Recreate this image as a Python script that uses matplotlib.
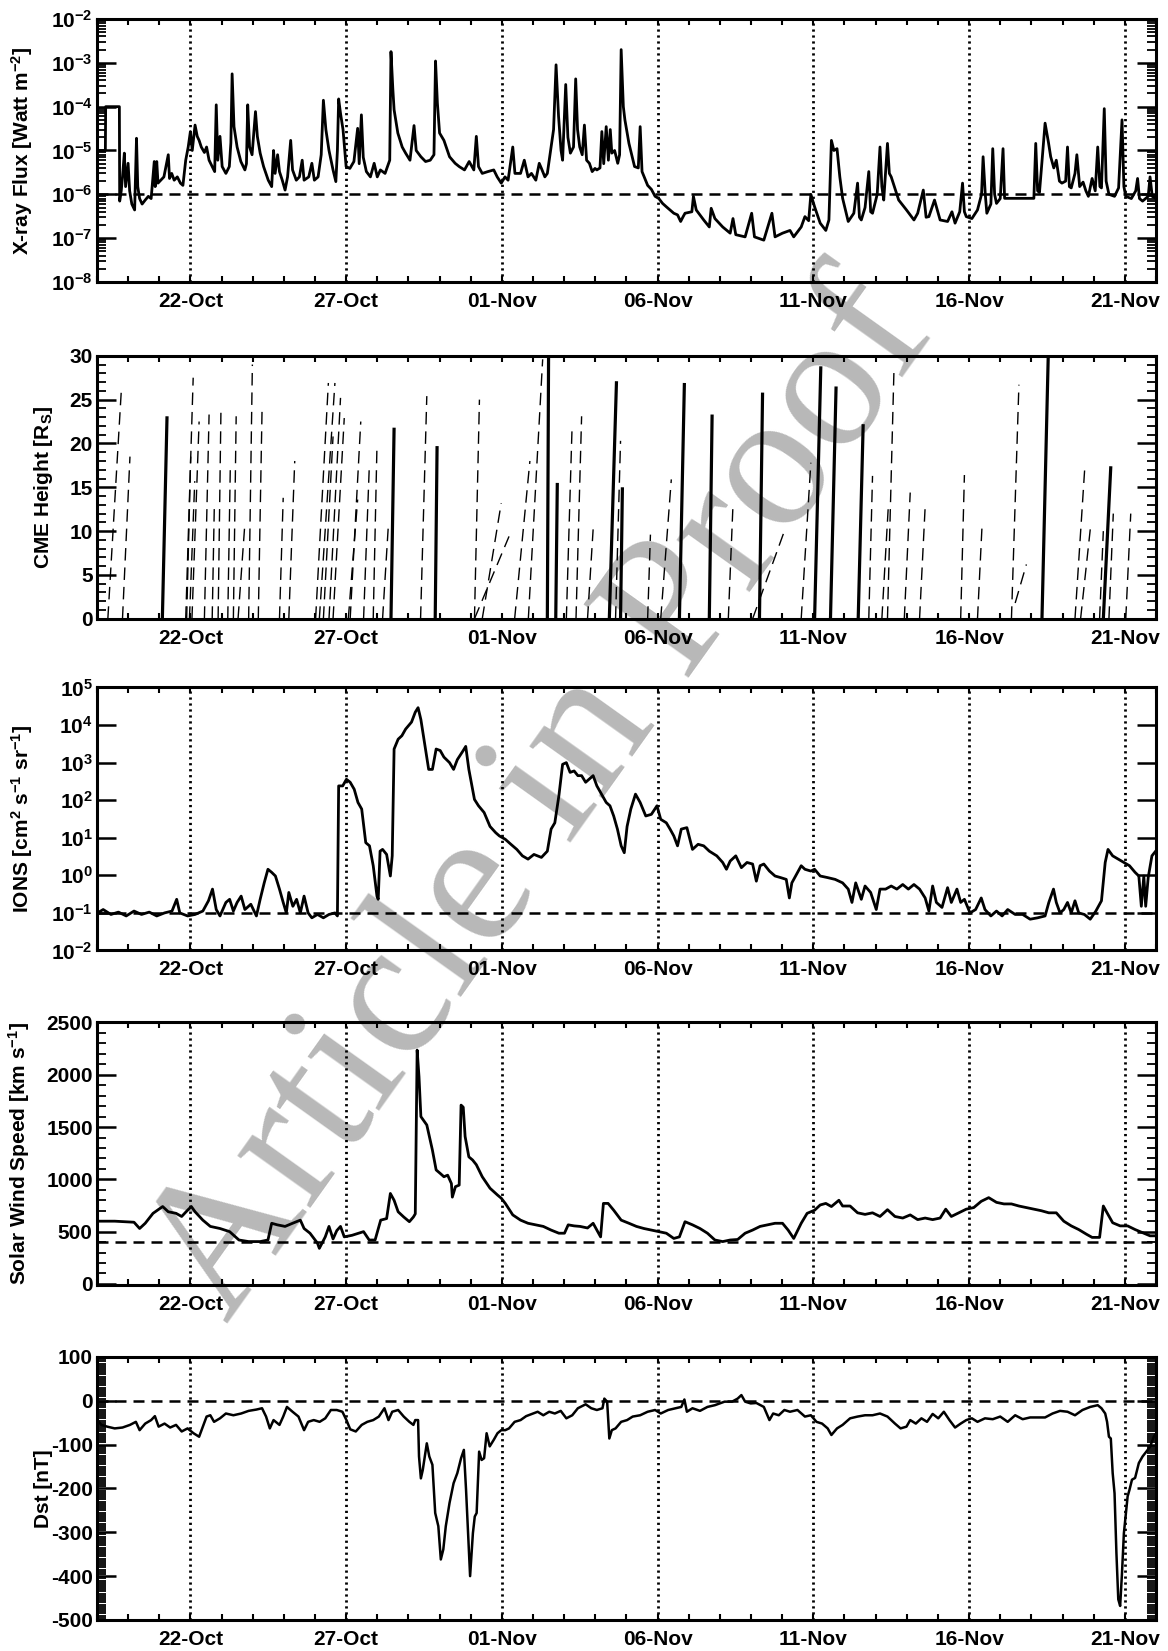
import numpy as np
import matplotlib
matplotlib.use('Agg')
import matplotlib.pyplot as plt
import matplotlib.dates as mdates
from matplotlib.ticker import (FixedLocator, FixedFormatter, MultipleLocator,
                               LogLocator, NullFormatter, NullLocator)

plt.rcParams['font.family'] = ['Liberation Sans', 'DejaVu Sans']
plt.rcParams['font.weight'] = 'bold'
plt.rcParams['axes.labelweight'] = 'bold'
plt.rcParams['mathtext.fontset'] = 'custom'
plt.rcParams['mathtext.rm'] = 'Liberation Sans:bold'
plt.rcParams['mathtext.bf'] = 'Liberation Sans:bold'
plt.rcParams['mathtext.it'] = 'Liberation Sans:bold'
plt.rcParams['mathtext.default'] = 'rm'
plt.rcParams['axes.unicode_minus'] = False

# time is in days since 2003-10-19 00:00
tick_days = [3, 8, 13, 18, 23, 28, 33]

# GOES x-ray flux (day, W m^-2)
xray = [
    (0.00, 1.6e-6), (0.01, 1.0e-5), (0.27, 1.0e-5), (0.28, 1.0e-4), (0.72, 1.0e-4), (0.73, 7.0e-7),
    (0.78, 1.2e-6), (0.82, 2.5e-6), (0.88, 8.7e-6), (0.92, 1.5e-6), (1.00, 5.1e-6), (1.05, 1.2e-6),
    (1.12, 6.0e-7), (1.21, 4.4e-7), (1.27, 1.9e-5), (1.31, 1.5e-6), (1.37, 8.0e-7), (1.45, 6.0e-7),
    (1.55, 7.4e-7), (1.65, 9.0e-7), (1.74, 8.0e-7), (1.84, 5.6e-6), (1.87, 1.5e-6), (1.92, 5.6e-6),
    (1.96, 1.8e-6), (2.05, 2.1e-6), (2.15, 2.5e-6), (2.29, 8.0e-6), (2.33, 2.3e-6), (2.40, 3.0e-6),
    (2.48, 2.1e-6), (2.58, 2.5e-6), (2.68, 1.8e-6), (2.76, 1.6e-6), (2.85, 6.0e-6), (2.93, 1.2e-5),
    (3.00, 2.7e-5), (3.06, 1.0e-5), (3.15, 3.8e-5), (3.22, 2.1e-5), (3.28, 1.7e-5), (3.35, 1.2e-5),
    (3.45, 9.0e-6), (3.52, 1.2e-5), (3.60, 6.0e-6), (3.70, 4.3e-6), (3.78, 3.3e-6), (3.83, 1.1e-4),
    (3.88, 6.0e-6), (3.95, 2.1e-5), (4.02, 4.3e-6), (4.14, 3.0e-6), (4.25, 4.3e-6), (4.30, 1.5e-5),
    (4.34, 5.6e-4), (4.40, 3.5e-5), (4.50, 1.2e-5), (4.62, 5.6e-6), (4.75, 3.6e-6), (4.80, 5.0e-6),
    (4.84, 1.1e-4), (4.90, 1.2e-5), (4.98, 8.0e-6), (5.09, 7.7e-5), (5.15, 2.1e-5), (5.24, 8.7e-6),
    (5.35, 4.3e-6), (5.50, 2.1e-6), (5.61, 1.5e-6), (5.67, 1.0e-5), (5.72, 3.0e-6), (5.80, 8.0e-6),
    (5.86, 3.3e-6), (5.95, 2.1e-6), (6.04, 1.25e-6), (6.12, 2.5e-6), (6.22, 1.7e-5), (6.28, 3.6e-6),
    (6.40, 2.1e-6), (6.50, 2.5e-6), (6.59, 6.0e-6), (6.65, 2.1e-6), (6.80, 2.5e-6), (6.90, 5.1e-6),
    (6.98, 2.1e-6), (7.10, 2.5e-6), (7.20, 8.0e-6), (7.27, 1.4e-4), (7.35, 3.0e-5), (7.45, 1.0e-5),
    (7.58, 3.6e-6), (7.67, 1.95e-6), (7.72, 1.0e-5), (7.76, 1.5e-4), (7.82, 7.0e-5), (7.90, 3.0e-5),
    (8.00, 4.3e-6), (8.12, 3.9e-6), (8.25, 5.6e-6), (8.37, 3.2e-5), (8.42, 5.0e-6), (8.49, 6.5e-5),
    (8.55, 7.0e-6), (8.65, 3.3e-6), (8.78, 2.5e-6), (8.90, 5.1e-6), (9.00, 2.5e-6), (9.10, 3.6e-6),
    (9.25, 3.0e-6), (9.40, 6.0e-6), (9.44, 1.8e-3), (9.50, 2.5e-4), (9.54, 8.5e-5), (9.66, 2.5e-5),
    (9.80, 1.2e-5), (9.91, 8.7e-6), (10.05, 6.0e-6), (10.18, 3.7e-5), (10.25, 1.0e-5), (10.40, 7.2e-6),
    (10.55, 5.6e-6), (10.70, 6.0e-6), (10.82, 8.0e-6), (10.87, 1.1e-3), (10.93, 1.2e-4), (11.00, 2.5e-5),
    (11.14, 1.7e-5), (11.32, 7.2e-6), (11.50, 5.1e-6), (11.63, 4.3e-6), (11.80, 3.6e-6), (11.95, 5.6e-6),
    (12.10, 3.6e-6), (12.18, 2.1e-5), (12.25, 4.3e-6), (12.37, 3.0e-6), (12.55, 3.3e-6), (12.74, 3.6e-6),
    (12.85, 2.5e-6), (12.98, 1.8e-6), (13.10, 2.5e-6), (13.20, 2.1e-6), (13.35, 1.2e-5), (13.42, 3.0e-6),
    (13.60, 3.0e-6), (13.72, 6.0e-6), (13.84, 2.5e-6), (13.95, 3.0e-6), (14.09, 2.1e-6), (14.20, 5.1e-6),
    (14.27, 3.9e-6), (14.38, 2.5e-6), (14.46, 3.0e-6), (14.58, 1.2e-5), (14.66, 3.0e-5), (14.74, 9.0e-4),
    (14.82, 6.0e-5), (14.90, 1.0e-5), (14.95, 6.0e-6), (15.05, 3.2e-4), (15.12, 2.0e-5), (15.20, 8.7e-6),
    (15.30, 1.2e-5), (15.37, 4.3e-4), (15.43, 3.0e-5), (15.50, 1.2e-5), (15.58, 8.0e-6), (15.65, 3.8e-5),
    (15.72, 6.0e-6), (15.81, 5.1e-6), (15.90, 3.3e-6), (15.99, 3.9e-6), (16.05, 3.6e-6), (16.15, 4.0e-6),
    (16.21, 2.7e-5), (16.27, 5.0e-6), (16.35, 3.5e-5), (16.42, 6.0e-6), (16.48, 3.0e-5), (16.53, 8.7e-6),
    (16.62, 1.0e-5), (16.72, 5.1e-6), (16.78, 8.0e-6), (16.83, 2.0e-3), (16.90, 1.0e-4), (16.95, 5.0e-5),
    (17.08, 1.45e-5), (17.26, 4.3e-6), (17.38, 4.0e-6), (17.44, 3.5e-5), (17.50, 3.3e-6), (17.68, 1.6e-6),
    (17.80, 1.3e-6), (17.92, 9.0e-7), (18.04, 8.0e-7), (18.16, 6.2e-7), (18.28, 5.2e-7), (18.40, 4.4e-7),
    (18.52, 3.7e-7), (18.64, 3.4e-7), (18.74, 2.4e-7), (18.82, 3.1e-7), (18.88, 3.7e-7), (19.10, 4.0e-7),
    (19.15, 9.0e-7), (19.24, 4.4e-7), (19.48, 2.6e-7), (19.66, 1.8e-7), (19.72, 4.8e-7), (19.84, 2.8e-7),
    (20.09, 1.8e-7), (20.33, 1.3e-7), (20.42, 2.8e-7), (20.51, 1.2e-7), (20.81, 1.07e-7), (21.02, 3.7e-7),
    (21.11, 1.07e-7), (21.41, 9.0e-8), (21.67, 3.7e-7), (21.77, 1.07e-7), (22.01, 1.3e-7), (22.25, 1.5e-7),
    (22.37, 1.07e-7), (22.61, 1.8e-7), (22.73, 3.1e-7), (22.85, 2.5e-7), (22.92, 1.0e-6), (23.04, 5.2e-7),
    (23.22, 2.2e-7), (23.40, 1.5e-7), (23.50, 2.6e-7), (23.58, 1.7e-5), (23.66, 1.0e-5), (23.76, 1.1e-5),
    (23.85, 2.5e-6), (23.94, 8.1e-7), (24.12, 2.4e-7), (24.30, 3.7e-7), (24.42, 1.8e-6), (24.48, 3.0e-7),
    (24.54, 2.6e-7), (24.66, 5.0e-7), (24.78, 3.3e-6), (24.84, 4.0e-7), (24.90, 3.7e-7), (25.05, 1.0e-6),
    (25.14, 1.2e-5), (25.20, 1.5e-6), (25.26, 7.4e-7), (25.38, 1.45e-5), (25.44, 3.0e-6), (25.50, 2.5e-6),
    (25.74, 7.4e-7), (25.99, 4.4e-7), (26.23, 2.6e-7), (26.35, 3.7e-7), (26.53, 1.25e-6), (26.62, 3.0e-7),
    (26.71, 3.1e-7), (26.89, 7.4e-7), (27.07, 2.6e-7), (27.31, 2.4e-7), (27.45, 4.0e-7), (27.55, 2.2e-7),
    (27.70, 4.0e-7), (27.79, 1.8e-6), (27.85, 4.0e-7), (27.91, 3.1e-7), (28.09, 2.8e-7), (28.27, 4.4e-7),
    (28.40, 1.0e-6), (28.45, 7.2e-6), (28.52, 1.0e-6), (28.57, 3.7e-7), (28.70, 6.0e-7), (28.76, 1.1e-5),
    (28.82, 1.0e-6), (28.88, 6.2e-7), (29.00, 8.0e-7), (29.09, 1.1e-5), (29.14, 8.1e-7), (30.08, 8.1e-7),
    (30.14, 1.45e-5), (30.20, 1.2e-6), (30.26, 1.1e-6), (30.36, 8.0e-6), (30.44, 4.2e-5), (30.55, 1.5e-5),
    (30.62, 7.2e-6), (30.72, 4.0e-6), (30.80, 6.0e-6), (30.90, 2.0e-6), (30.98, 1.8e-6), (31.10, 2.0e-6),
    (31.16, 1.2e-5), (31.22, 1.5e-6), (31.28, 1.4e-6), (31.40, 3.0e-6), (31.46, 8.0e-6), (31.55, 1.5e-6),
    (31.66, 1.9e-6), (31.75, 1.2e-6), (31.83, 9.0e-7), (31.95, 2.3e-6), (32.05, 1.2e-6), (32.13, 1.2e-5),
    (32.20, 1.5e-6), (32.25, 1.4e-6), (32.34, 9.0e-5), (32.40, 2.0e-6), (32.49, 1.0e-6), (32.67, 9.0e-7),
    (32.80, 1.4e-6), (32.91, 5.0e-5), (32.97, 1.5e-6), (33.03, 9.0e-7), (33.21, 8.0e-7), (33.35, 1.2e-6),
    (33.41, 2.3e-6), (33.47, 8.0e-7), (33.57, 7.0e-7), (33.75, 9.0e-7), (33.81, 2.5e-6), (33.88, 9.0e-7),
    (34.00, 8.0e-7),
]

# CME height-time tracks: (start day, end day, start height, end height, halo)
cme = [
    (0.35, 0.79, 0, 26.5, 0), (0.82, 1.06, 0, 18.5, 0), (2.10, 2.25, 0, 23.1, 1),
    (2.85, 3.09, 0, 27.5, 0), (2.88, 3.01, 0, 18.5, 0), (2.97, 3.14, 0, 15.7, 0),
    (3.05, 3.28, 0, 22.5, 0), (3.45, 3.60, 0, 23.3, 0), (3.70, 3.77, 0, 13.2, 0),
    (3.89, 3.98, 0, 23.5, 0), (4.20, 4.28, 0, 17.0, 0), (4.38, 4.47, 0, 23.1, 0),
    (4.53, 4.75, 0, 10.9, 0), (4.87, 4.99, 0, 29.0, 0), (5.18, 5.30, 0, 23.7, 0),
    (5.86, 5.98, 0, 13.8, 0), (6.16, 6.35, 0, 18.0, 0), (7.02, 7.43, 0, 26.9, 0),
    (7.14, 7.64, 0, 26.9, 0), (7.27, 7.58, 0, 20.8, 0), (7.45, 7.82, 0, 25.2, 0),
    (7.58, 7.94, 0, 22.9, 0), (8.07, 8.37, 0, 13.6, 0), (8.13, 8.47, 0, 22.5, 0),
    (8.56, 8.74, 0, 17.0, 0), (8.87, 8.99, 0, 19.7, 0), (9.17, 9.36, 0, 10.9, 0),
    (9.44, 9.54, 0, 21.8, 1), (10.39, 10.59, 0, 25.4, 0), (10.86, 10.92, 0, 19.7, 1),
    (12.12, 12.28, 0, 25.0, 0), (12.12, 13.23, 0, 9.4, 0), (12.37, 12.98, 0, 13.2, 0),
    (13.41, 13.90, 0, 18.0, 0), (13.85, 14.31, 0, 29.6, 0), (14.46, 14.50, 0, 30.5, 1),
    (14.73, 14.78, 0, 15.5, 1), (15.07, 15.25, 0, 21.4, 0), (15.38, 15.56, 0, 23.1, 0),
    (15.75, 15.93, 0, 10.2, 0), (16.45, 16.68, 0, 27.1, 1), (16.65, 16.81, 0, 20.3, 0),
    (16.81, 16.87, 0, 15.0, 1), (17.68, 17.77, 0, 9.6, 0), (18.10, 18.44, 0, 15.9, 0),
    (18.70, 18.86, 0, 26.9, 1), (19.66, 19.75, 0, 23.3, 1), (20.27, 20.42, 0, 13.0, 0),
    (21.05, 22.11, 0, 10.4, 0), (21.27, 21.37, 0, 25.8, 1), (22.61, 22.92, 0, 17.8, 0),
    (23.04, 23.24, 0, 28.8, 1), (23.55, 23.73, 0, 26.5, 1), (24.44, 24.60, 0, 22.2, 1),
    (24.78, 24.90, 0, 16.3, 0), (25.20, 25.41, 0, 13.0, 0), (25.38, 25.59, 0, 28.6, 0),
    (25.92, 26.11, 0, 14.4, 0), (26.41, 26.59, 0, 12.8, 0), (27.73, 27.85, 0, 16.4, 0),
    (28.27, 28.42, 0, 10.9, 0), (29.36, 29.60, 0, 26.7, 0), (29.48, 29.84, 1.8, 6.2, 0),
    (30.34, 30.54, 0, 29.8, 1), (31.40, 31.71, 0, 17.0, 0), (31.58, 31.89, 0, 10.2, 0),
    (32.19, 32.31, 0, 10.0, 0), (32.31, 32.55, 0, 17.4, 1), (32.49, 32.63, 0, 12.0, 0),
    (33.03, 33.19, 0, 12.0, 0),
]

# proton (ion) flux (day, cm^-2 s^-1 sr^-1)
ions = [
    (0.02, 0.10), (0.20, 0.123), (0.45, 0.091), (0.69, 0.105), (0.94, 0.083), (1.19, 0.112),
    (1.43, 0.091), (1.68, 0.105), (1.92, 0.083), (2.17, 0.10), (2.41, 0.112), (2.56, 0.23),
    (2.66, 0.10), (2.91, 0.083), (3.15, 0.091), (3.40, 0.112), (3.58, 0.21), (3.71, 0.43),
    (3.83, 0.123), (3.95, 0.083), (4.14, 0.19), (4.26, 0.23), (4.38, 0.112), (4.50, 0.19),
    (4.63, 0.28), (4.75, 0.123), (4.94, 0.17), (5.12, 0.083), (5.24, 0.23), (5.37, 0.63),
    (5.49, 1.45), (5.61, 1.2), (5.73, 0.96), (5.86, 0.43), (5.98, 0.19), (6.08, 0.10),
    (6.16, 0.35), (6.29, 0.15), (6.41, 0.23), (6.53, 0.10), (6.65, 0.28), (6.78, 0.10),
    (6.90, 0.074), (7.08, 0.091), (7.27, 0.074), (7.45, 0.091), (7.64, 0.10), (7.72, 0.083),
    (7.76, 240), (7.89, 240), (8.01, 360), (8.13, 300), (8.26, 195), (8.38, 87),
    (8.50, 58), (8.63, 7.4), (8.75, 6.1), (8.87, 1.8), (8.99, 0.28), (9.03, 0.23),
    (9.09, 4.4), (9.17, 4.9), (9.30, 3.6), (9.42, 0.96), (9.48, 3.3), (9.54, 2300),
    (9.67, 4200), (9.79, 5200), (9.91, 7800), (10.10, 1.2e4), (10.22, 2.2e4), (10.31, 2.9e4),
    (10.40, 1.4e4), (10.53, 2800), (10.65, 660), (10.77, 660), (10.89, 2300), (11.02, 2100),
    (11.14, 1400), (11.32, 1000), (11.45, 660), (11.57, 1200), (11.76, 2100), (11.84, 2700),
    (11.94, 660), (12.12, 105), (12.25, 71), (12.43, 47), (12.62, 20), (12.80, 13.7),
    (12.92, 11.2), (13.11, 9.1), (13.29, 6.7), (13.48, 4.9), (13.66, 3.3), (13.84, 2.7),
    (14.03, 3.6), (14.27, 3.0), (14.46, 4.4), (14.58, 17), (14.70, 25), (14.83, 130),
    (14.95, 900), (15.07, 1000), (15.19, 550), (15.32, 600), (15.44, 450), (15.56, 450),
    (15.69, 300), (15.93, 450), (16.05, 240), (16.23, 130), (16.35, 87), (16.47, 71),
    (16.59, 38), (16.71, 17), (16.83, 6.1), (16.93, 4.0), (17.02, 20), (17.14, 58),
    (17.29, 145), (17.44, 87), (17.62, 38), (17.80, 42), (17.98, 71), (18.10, 31),
    (18.28, 25), (18.40, 17), (18.52, 11.2), (18.64, 6.1), (18.76, 17), (18.94, 18.6),
    (19.12, 4.9), (19.30, 6.7), (19.48, 6.1), (19.66, 4.4), (19.90, 3.3), (20.09, 2.2),
    (20.21, 1.45), (20.33, 2.4), (20.51, 3.3), (20.69, 1.6), (20.87, 2.2), (21.05, 2.0),
    (21.17, 0.70), (21.29, 1.8), (21.41, 2.0), (21.59, 1.3), (21.77, 0.96), (21.95, 0.87),
    (22.13, 0.78), (22.23, 0.25), (22.31, 0.63), (22.43, 0.96), (22.61, 1.8), (22.73, 1.45),
    (22.92, 1.3), (23.04, 1.45), (23.22, 0.96), (23.46, 0.87), (23.70, 0.78), (23.94, 0.63),
    (24.12, 0.43), (24.24, 0.19), (24.36, 0.63), (24.54, 0.23), (24.66, 0.52), (24.84, 0.35),
    (25.02, 0.123), (25.14, 0.43), (25.32, 0.43), (25.50, 0.52), (25.68, 0.43), (25.87, 0.57),
    (26.05, 0.43), (26.23, 0.57), (26.41, 0.43), (26.59, 0.25), (26.71, 0.112), (26.83, 0.52),
    (26.95, 0.19), (27.13, 0.14), (27.31, 0.47), (27.43, 0.19), (27.61, 0.43), (27.73, 0.19),
    (27.85, 0.23), (28.03, 0.10), (28.21, 0.123), (28.39, 0.25), (28.51, 0.123), (28.70, 0.083),
    (28.88, 0.112), (29.06, 0.083), (29.24, 0.123), (29.48, 0.091), (29.72, 0.091), (29.96, 0.068),
    (30.20, 0.074), (30.44, 0.083), (30.56, 0.19), (30.71, 0.43), (30.80, 0.19), (30.92, 0.10),
    (31.04, 0.123), (31.16, 0.19), (31.28, 0.10), (31.40, 0.21), (31.52, 0.10), (31.70, 0.091),
    (31.89, 0.068), (32.07, 0.112), (32.25, 0.21), (32.37, 2.2), (32.46, 4.9), (32.61, 3.3),
    (32.79, 2.7), (32.97, 2.2), (33.15, 1.8), (33.33, 1.2), (33.45, 0.96), (33.53, 0.15),
    (33.61, 0.96), (33.67, 0.15), (33.75, 0.87), (33.87, 3.3), (33.99, 4.4),
]

# solar wind speed (day, km/s)
speed = [
    (0.02, 600), (0.57, 600), (1.19, 590), (1.37, 530), (1.55, 580), (1.80, 675),
    (2.11, 740), (2.29, 690), (2.54, 675), (2.72, 645), (2.91, 705), (3.03, 740),
    (3.15, 690), (3.40, 610), (3.64, 550), (3.95, 530), (4.26, 500), (4.56, 420),
    (4.87, 405), (5.24, 405), (5.49, 420), (5.61, 580), (5.79, 565), (6.04, 550),
    (6.28, 580), (6.53, 610), (6.65, 530), (6.84, 485), (7.08, 390), (7.14, 340),
    (7.33, 450), (7.45, 550), (7.58, 430), (7.70, 510), (7.82, 550), (7.94, 450),
    (8.19, 465), (8.56, 500), (8.74, 420), (8.93, 420), (9.11, 610), (9.30, 625),
    (9.42, 865), (9.54, 800), (9.67, 690), (9.85, 640), (10.03, 595), (10.16, 640),
    (10.22, 670), (10.28, 2236), (10.34, 1980), (10.40, 1600), (10.59, 1520), (10.77, 1280),
    (10.89, 1090), (11.02, 1057), (11.14, 1025), (11.26, 1040), (11.38, 960), (11.41, 830),
    (11.51, 930), (11.63, 945), (11.69, 1710), (11.76, 1690), (11.82, 1410), (11.94, 1215),
    (12.06, 1185), (12.18, 1140), (12.37, 1025), (12.62, 915), (12.86, 850), (12.98, 820),
    (13.11, 770), (13.35, 660), (13.60, 610), (13.84, 580), (14.09, 565), (14.33, 550),
    (14.58, 515), (14.83, 485), (15.01, 485), (15.13, 565), (15.32, 555), (15.51, 550),
    (15.75, 535), (15.93, 580), (16.17, 450), (16.26, 770), (16.41, 770), (16.59, 705),
    (16.83, 610), (17.08, 580), (17.32, 550), (17.56, 530), (17.80, 515), (18.04, 500),
    (18.28, 485), (18.52, 435), (18.70, 450), (18.88, 595), (19.12, 565), (19.36, 530),
    (19.60, 485), (19.84, 420), (20.09, 405), (20.33, 420), (20.57, 425), (20.81, 485),
    (21.05, 515), (21.29, 550), (21.53, 565), (21.77, 580), (22.01, 580), (22.19, 515),
    (22.37, 435), (22.61, 580), (22.80, 675), (23.04, 705), (23.22, 755), (23.40, 770),
    (23.58, 740), (23.82, 800), (23.94, 745), (24.18, 745), (24.42, 680), (24.66, 665),
    (24.90, 680), (25.14, 645), (25.38, 710), (25.62, 645), (25.87, 630), (26.11, 660),
    (26.35, 615), (26.59, 630), (26.83, 615), (27.07, 630), (27.25, 715), (27.43, 645),
    (27.67, 680), (27.91, 715), (28.15, 730), (28.39, 790), (28.63, 825), (28.88, 780),
    (29.12, 765), (29.36, 765), (29.60, 745), (29.84, 730), (30.08, 715), (30.32, 700),
    (30.56, 680), (30.80, 680), (31.04, 600), (31.28, 555), (31.52, 520), (31.77, 475),
    (31.95, 445), (32.19, 445), (32.31, 745), (32.43, 680), (32.61, 585), (32.85, 555),
    (33.09, 555), (33.33, 520), (33.57, 490), (33.81, 460), (33.99, 460),
]

# Dst index (day, nT)
dst = [
    (0.02, -44), (0.14, -55), (0.33, -59), (0.57, -63), (0.82, -61), (1.06, -55),
    (1.25, -48), (1.37, -67), (1.55, -52), (1.74, -44), (1.86, -35), (1.98, -59),
    (2.17, -52), (2.35, -61), (2.54, -55), (2.72, -70), (2.91, -63), (3.10, -74),
    (3.28, -82), (3.40, -59), (3.52, -36), (3.64, -33), (3.76, -48), (3.95, -40),
    (4.14, -29), (4.38, -33), (4.63, -29), (4.87, -23), (5.12, -20), (5.30, -17),
    (5.43, -36), (5.55, -63), (5.67, -44), (5.86, -55), (5.98, -36), (6.10, -14),
    (6.28, -25), (6.47, -36), (6.65, -67), (6.78, -48), (6.96, -44), (7.15, -48),
    (7.33, -40), (7.51, -21), (7.70, -21), (7.88, -25), (8.01, -44), (8.13, -65),
    (8.31, -70), (8.50, -55), (8.68, -48), (8.87, -44), (9.05, -36), (9.23, -17),
    (9.36, -44), (9.48, -25), (9.67, -21), (9.85, -36), (10.03, -48), (10.16, -55),
    (10.22, -44), (10.31, -44), (10.34, -127), (10.40, -177), (10.46, -158), (10.59, -97),
    (10.67, -127), (10.77, -146), (10.86, -256), (10.96, -286), (11.04, -362), (11.12, -339),
    (11.20, -286), (11.32, -233), (11.45, -188), (11.57, -165), (11.69, -131), (11.78, -112),
    (11.85, -203), (11.90, -279), (11.98, -400), (12.07, -302), (12.13, -264), (12.19, -256),
    (12.27, -116), (12.35, -135), (12.43, -131), (12.51, -74), (12.61, -104), (12.74, -89),
    (12.86, -74), (12.98, -67), (13.11, -67), (13.23, -63), (13.41, -48), (13.60, -44),
    (13.78, -35), (13.97, -30), (14.15, -25), (14.33, -33), (14.52, -25), (14.70, -29),
    (14.89, -23), (15.07, -40), (15.26, -33), (15.44, -17), (15.69, -8), (15.87, -17),
    (16.05, -21), (16.23, -17), (16.29, 5), (16.38, -2), (16.45, -86), (16.53, -67),
    (16.65, -63), (16.83, -48), (17.02, -44), (17.20, -36), (17.44, -33), (17.68, -25),
    (17.92, -21), (18.10, -29), (18.34, -21), (18.58, -17), (18.76, -14), (18.86, 3),
    (18.94, -25), (19.12, -17), (19.36, -23), (19.60, -14), (19.84, -10), (20.15, -2),
    (20.39, -2), (20.57, 5), (20.69, 13), (20.81, -2), (20.99, -6), (21.17, -5),
    (21.41, -14), (21.59, -44), (21.71, -29), (21.89, -33), (22.07, -21), (22.25, -25),
    (22.49, -21), (22.73, -36), (22.92, -33), (23.10, -48), (23.28, -52), (23.46, -63),
    (23.58, -78), (23.76, -63), (23.94, -55), (24.18, -40), (24.42, -36), (24.66, -33),
    (24.90, -33), (25.14, -29), (25.38, -36), (25.62, -52), (25.80, -63), (25.99, -59),
    (26.11, -44), (26.29, -52), (26.47, -40), (26.65, -48), (26.83, -30), (27.01, -40),
    (27.19, -25), (27.37, -44), (27.55, -61), (27.73, -52), (27.91, -44), (28.09, -40),
    (28.27, -48), (28.51, -40), (28.76, -42), (29.00, -36), (29.24, -48), (29.48, -33),
    (29.72, -42), (29.96, -38), (30.20, -38), (30.44, -38), (30.68, -29), (30.92, -23),
    (31.16, -25), (31.40, -33), (31.64, -21), (31.89, -14), (32.13, -10), (32.25, -17),
    (32.37, -29), (32.43, -48), (32.49, -82), (32.55, -86), (32.61, -165), (32.67, -211),
    (32.73, -347), (32.79, -453), (32.85, -468), (32.91, -392), (32.97, -302), (33.09, -218),
    (33.15, -203), (33.23, -180), (33.33, -176), (33.45, -142), (33.57, -127), (33.69, -116),
    (33.81, -105), (33.93, -82), (34.00, -75),
]

xray_ref = 1e-6
ions_ref = 0.1
speed_ref = 400
dst_ref = 0

T0 = np.datetime64('2003-10-19T00:00:00')


def to_num(days):
    secs = np.round(np.asarray(days, dtype=float) * 86400).astype(np.int64)
    return mdates.date2num(T0 + secs.astype('timedelta64[s]'))


def series(points):
    d, v = zip(*points)
    return to_num(d), np.array(v, dtype=float)


fig = plt.figure(figsize=(11.68, 16.51), dpi=100)
left, width, height = 0.0830, 0.9067, 0.1593
bottoms = [0.8292, 0.6252, 0.4243, 0.2217, 0.0188]
axes = [fig.add_axes([left, b, width, height]) for b in bottoms]

DASH = (0, (4.4, 2.8))
DOT = (0, (0.8, 1.35))
LW = 2.0


def base_style(ax, dotted=True):
    ax.set_facecolor('none')
    ax.set_xlim(to_num(0), to_num(34))
    ax.xaxis.set_major_locator(FixedLocator(to_num(tick_days)))
    ax.xaxis.set_major_formatter(mdates.DateFormatter('%d-%b'))
    ax.xaxis.set_minor_locator(mdates.DayLocator())
    ax.tick_params(axis='x', which='both', direction='in', top=True, bottom=True,
                   length=4.5, width=1.5, pad=7, labelsize=15)
    ax.tick_params(axis='y', which='major', direction='in', left=True, right=True,
                   length=14, width=1.8, pad=3, labelsize=15)
    ax.tick_params(axis='y', which='minor', direction='in', left=True, right=True,
                   length=6.5, width=1.3)
    for s in ax.spines.values():
        s.set_linewidth(2.2)
    if dotted:
        for d in to_num(tick_days):
            ax.axvline(d, color='k', lw=2.0, ls=DOT, zorder=1)


# panel 1: x-ray flux
ax = axes[0]
base_style(ax)
t, v = series(xray)
ax.plot(t, v, color='k', lw=LW, zorder=3)
ax.axhline(xray_ref, color='k', lw=1.8, ls=DASH, zorder=2)
ax.set_yscale('log')
ax.set_ylim(1e-8, 1e-2)
dec = [1e-8, 1e-7, 1e-6, 1e-5, 1e-4, 1e-3, 1e-2]
ax.yaxis.set_major_locator(FixedLocator(dec))
ax.yaxis.set_major_formatter(FixedFormatter([r'$10^{%d}$' % e for e in range(-8, -1)]))
ax.yaxis.set_minor_locator(LogLocator(base=10, subs=range(2, 10), numticks=20))
ax.yaxis.set_minor_formatter(NullFormatter())
ax.set_ylabel(r'X-ray Flux [Watt m$^{-2}$]', fontsize=15, va='center')
ax.yaxis.set_label_coords(-0.071, 0.5)

# panel 2: CME height-time tracks
ax = axes[1]
base_style(ax, dotted=False)
for t0, t1, h0, h1, halo in cme:
    tt = to_num([t0, t1])
    if halo:
        ax.plot(tt, [h0, h1], color='k', lw=2.3, solid_capstyle='butt', zorder=3)
    else:
        ax.plot(tt, [h0, h1], color='k', lw=1.0, ls=(0, (9, 5)), zorder=2)
ax.set_ylim(0, 30)
ax.yaxis.set_major_locator(MultipleLocator(5))
ax.yaxis.set_minor_locator(MultipleLocator(1))
ax.set_ylabel(r'CME Height [R$_\mathrm{S}$]', fontsize=15, va='center')
ax.yaxis.set_label_coords(-0.050, 0.5)

# panel 3: ions
ax = axes[2]
base_style(ax)
t, v = series(ions)
ax.plot(t, v, color='k', lw=LW, zorder=3)
ax.axhline(ions_ref, color='k', lw=1.8, ls=DASH, zorder=2)
ax.set_yscale('log')
ax.set_ylim(1e-2, 1e5)
ax.yaxis.set_major_locator(FixedLocator([10.0 ** e for e in range(-2, 6)]))
ax.yaxis.set_major_formatter(FixedFormatter([r'$10^{%d}$' % e for e in range(-2, 6)]))
ax.yaxis.set_minor_locator(NullLocator())
ax.set_ylabel(r'IONS [cm$^{2}$ s$^{-1}$ sr$^{-1}$]', fontsize=15, va='center')
ax.yaxis.set_label_coords(-0.071, 0.5)

# panel 4: solar wind speed
ax = axes[3]
base_style(ax)
t, v = series(speed)
ax.plot(t, v, color='k', lw=LW, zorder=3)
ax.axhline(speed_ref, color='k', lw=1.8, ls=DASH, zorder=2)
ax.set_ylim(-10, 2505)
ax.yaxis.set_major_locator(MultipleLocator(500))
ax.yaxis.set_minor_locator(MultipleLocator(100))
ax.set_ylabel(r'Solar Wind Speed [km s$^{-1}$]', fontsize=15, va='center')
ax.yaxis.set_label_coords(-0.074, 0.5)

# panel 5: Dst
ax = axes[4]
base_style(ax)
t, v = series(dst)
ax.plot(t, v, color='k', lw=1.8, zorder=3)
ax.axhline(dst_ref, color='k', lw=1.8, ls=DASH, zorder=2)
ax.set_ylim(-500, 100)
ax.yaxis.set_major_locator(MultipleLocator(100))
ax.yaxis.set_minor_locator(MultipleLocator(5))
ax.set_ylabel('Dst [nT]', fontsize=15, va='center')
ax.yaxis.set_label_coords(-0.050, 0.5)

# proof watermark behind the panels
fig.text(0.466, 0.515, 'Article in Proof', rotation=54.5, fontsize=140,
         family='Liberation Serif', fontweight='normal', color='0.72',
         ha='center', va='center', zorder=-1)

fig.savefig('out.png', dpi=100)
